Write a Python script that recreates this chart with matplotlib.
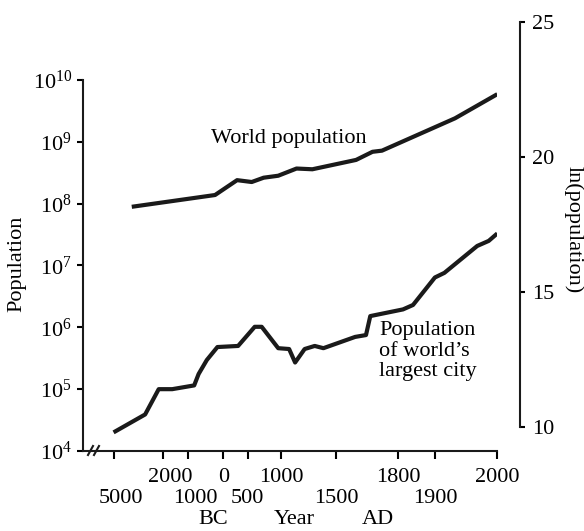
import numpy as np
import matplotlib.pyplot as plt
from matplotlib.ticker import NullLocator
from matplotlib.transforms import ScaledTranslation

plt.rcParams['font.family'] = 'Liberation Serif'
plt.rcParams['mathtext.fontset'] = 'custom'
plt.rcParams['mathtext.rm'] = 'Liberation Serif'
plt.rcParams['mathtext.it'] = 'Liberation Serif:italic'

# years: negative = BC
world_years = [-3700, -200, 300, 570, 760, 960, 1170, 1320, 1620, 1700, 1740, 1940, 2000]
world_pop = [8.9e7, 1.38e8, 2.4e8, 2.24e8, 2.63e8, 2.83e8, 3.7e8, 3.6e8, 5.1e8,
             6.9e8, 7.2e8, 2.4e9, 5.9e9]

city_years = [-5000, -2900, -2200, -1600, -800, -660, -420, -140, 320, 620, 730,
              960, 1090, 1155, 1250, 1340, 1410, 1615, 1670, 1690, 1815, 1845,
              1900, 1920, 1975, 1990, 2000]
city_pop = [2.0e4, 3.9e4, 1.0e5, 1.0e5, 1.15e5, 1.76e5, 2.96e5, 4.8e5, 5.0e5,
            1.02e6, 1.02e6, 4.6e5, 4.46e5, 2.7e5, 4.46e5, 5.0e5, 4.6e5, 7.0e5,
            7.5e5, 1.52e6, 1.95e6, 2.3e6, 6.4e6, 7.6e6, 2.07e7, 2.5e7, 3.3e7]

top_ticks = [-2000, 0, 1000, 1800, 2000]
top_labels = ['2000', '0', '1000', '1800', '2000']
bottom_ticks = [-5000, -1000, 500, 1500, 1900]
bottom_labels = ['5000', '1000', '500', '1500', '1900']
pop_ticks = [1e4, 1e5, 1e6, 1e7, 1e8, 1e9, 1e10]
ln_ticks = [10, 15, 20, 25]

fs = 16


# time axis is squeezed towards the present: x ~ -ln(2100 - year)
def fwd(x):
    return -np.log(np.maximum(2100 - np.asarray(x, dtype=float), 1e-9))


def inv(y):
    return 2100 - np.exp(-np.asarray(y, dtype=float))


fig = plt.figure(figsize=(5.84, 5.31), dpi=100)
ax = fig.add_axes([83 / 584, 80 / 531, 414.3 / 584, 371 / 531])

ax.set_xscale('function', functions=(fwd, inv))
ax.set_yscale('log')
ax.set_xlim(-7870, 2000)
ax.set_ylim(1e4, 1e10)

lw = 3
ax.plot(world_years, world_pop, color='#1a1a1a', lw=lw, solid_capstyle='butt')
ax.plot(city_years, city_pop, color='#1a1a1a', lw=lw, solid_capstyle='butt')

ax.text(-300, 1.15e9, 'World population', fontsize=fs, va='center', ha='left')
ax.text(1729, 4.1e5, 'Population\nof world\u2019s\nlargest city', fontsize=fs,
        va='center', ha='left', linespacing=1.12)

for s in ['top', 'right']:
    ax.spines[s].set_visible(False)
for s in ['left', 'bottom']:
    ax.spines[s].set_linewidth(1.5)
    ax.spines[s].set_color('#1a1a1a')

ax.set_yticks(pop_ticks)
ax.yaxis.set_minor_locator(NullLocator())
ax.tick_params(axis='y', length=4.3, width=1.5, pad=3.6, labelsize=fs)

ax.set_xticks(top_ticks)
ax.set_xticklabels(top_labels)
ax.set_xticks(bottom_ticks, minor=True)
ax.set_xticklabels(bottom_labels, minor=True)
ax.tick_params(axis='x', which='both', length=5.4, width=1.5, labelsize=fs)
ax.tick_params(axis='x', which='major', pad=7)
ax.tick_params(axis='x', which='minor', pad=22)

ax.set_ylabel('Population', fontsize=fs, va='center')
ax.yaxis.set_label_coords(17 / 584, (531 - 264) / 531, transform=fig.transFigure)
ax.set_xlabel('Year', fontsize=fs, va='center')
ax.xaxis.set_label_coords(294 / 584, (531 - 519) / 531, transform=fig.transFigure)
fig.text(213 / 584, (531 - 519) / 531, 'BC', fontsize=fs, ha='center', va='center')
fig.text(378 / 584, (531 - 519) / 531, 'AD', fontsize=fs, ha='center', va='center')

# axis break on the time axis
for dx in [0, 6]:
    ax.plot([(5 + dx) / 414.3, (10 + dx) / 414.3], [-4 / 371, 5 / 371],
            transform=ax.transAxes, color='#1a1a1a', lw=1.5, clip_on=False)

# right-hand ln(population) scale
ax2 = fig.add_axes([519 / 584, 104.3 / 531, 1 / 584, 405 / 531])
ax2.patch.set_visible(False)
for s in ['top', 'left', 'bottom']:
    ax2.spines[s].set_visible(False)
ax2.spines['right'].set_linewidth(1.5)
ax2.spines['right'].set_color('#1a1a1a')
ax2.set_ylim(10, 25)
ax2.set_xticks([])
ax2.yaxis.tick_right()
ax2.set_yticks(ln_ticks)
ax2.tick_params(axis='y', length=3.5, width=1.5, pad=5, labelsize=fs)
fig.text(573 / 584, (531 - 230) / 531, 'ln(population)', fontsize=fs,
         rotation=270, ha='center', va='center')

# BC labels sit a little to the right of their ticks in the original
fig.canvas.draw()
shift = ScaledTranslation(7 / 100, 0, fig.dpi_scale_trans)
for lab in ax.get_xticklabels():
    if lab.get_text() == '2000' and lab.get_position()[0] < 0:
        lab.set_transform(lab.get_transform() + shift)
for lab in ax.get_xticklabels(minor=True):
    if lab.get_text() in ('5000', '1000'):
        lab.set_transform(lab.get_transform() + shift)

fig.savefig('out.png', dpi=100)
